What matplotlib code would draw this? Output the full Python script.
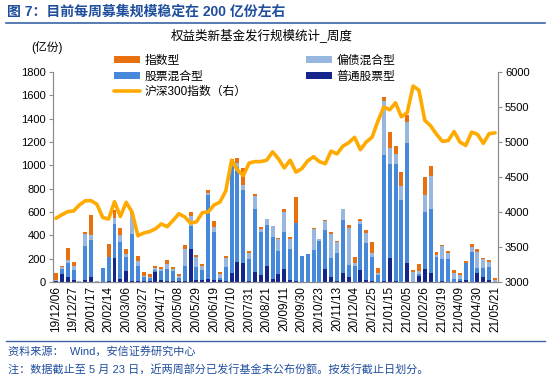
import matplotlib.pyplot as plt
import numpy as np

plt.rcParams['font.family'] = ['Liberation Sans', 'Noto Sans CJK SC', 'DejaVu Sans']

# weekly dates (every category), label shown every 3rd
dates = ['19/12/06', '19/12/13', '19/12/20', '19/12/27', '20/01/03', '20/01/10', '20/01/17', '20/01/23',
         '20/02/07', '20/02/14', '20/02/21', '20/02/28', '20/03/06', '20/03/13', '20/03/20', '20/03/27',
         '20/04/03', '20/04/10', '20/04/17', '20/04/24', '20/04/30', '20/05/08', '20/05/15', '20/05/22',
         '20/05/29', '20/06/05', '20/06/12', '20/06/19', '20/06/24', '20/07/03', '20/07/10', '20/07/17',
         '20/07/24', '20/07/31', '20/08/07', '20/08/14', '20/08/21', '20/08/28', '20/09/04', '20/09/11',
         '20/09/18', '20/09/25', '20/09/30', '20/10/09', '20/10/16', '20/10/23', '20/10/30', '20/11/06',
         '20/11/13', '20/11/20', '20/11/27', '20/12/04', '20/12/11', '20/12/18', '20/12/25', '20/12/31',
         '21/01/08', '21/01/15', '21/01/22', '21/01/29', '21/02/05', '21/02/10', '21/02/19', '21/02/26',
         '21/03/05', '21/03/12', '21/03/19', '21/03/26', '21/04/02', '21/04/09', '21/04/16', '21/04/23',
         '21/04/30', '21/05/07', '21/05/14', '21/05/21']

# 普通股票型
ptgp = [5, 70, 40, 15, 0, 20, 45, 0, 3, 5, 208, 28, 90, 5, 5, 5, 5, 85, 15, 12, 8, 8, 8, 283,
        17, 15, 26, 17, 17, 8, 75, 174, 166, 5, 86, 63, 140, 23, 69, 109, 17, 5, 0, 0, 3, 3,
        109, 46, 5, 74, 46, 3, 103, 17, 5, 3, 5, 203, 5, 3, 160, 0, 51, 109, 74, 0, 8, 0, 0,
        9, 20, 0, 80, 40, 15, 0]
# 股票混合型
gphh = [5, 45, 125, 90, 0, 285, 315, 0, 120, 205, 286, 317, 125, 410, 135, 35, 30, 20, 75, 97,
        88, 30, 129, 194, 114, 88, 720, 414, 15, 124, 920, 816, 623, 190, 543, 363, 349, 360,
        197, 323, 263, 498, 220, 240, 271, 349, 337, 157, 240, 457, 100, 134, 394, 314, 206, 60,
        1083, 808, 1006, 700, 1034, 0, 20, 494, 549, 217, 189, 197, 26, 20, 143, 260, 37, 80, 110, 0]
# 偏债混合型
pzhh = [5, 12, 25, 30, 12, 110, 43, 10, 0, 3, 57, 57, 22, 165, 43, 14, 12, 12, 20, 46, 12, 14,
        143, 86, 83, 37, 14, 43, 34, 77, 40, 30, 42, 51, 111, 29, 54, 97, 100, 166, 86, 0, 3, 0,
        177, 17, 80, 206, 100, 91, 317, 23, 29, 91, 40, 17, 463, 134, 83, 120, 174, 89, 23, 143,
        285, 14, 111, 49, 49, 31, 3, 43, 137, 75, 50, 14]
# 指数型
zsx = [60, 13, 100, 39, 0, 10, 170, 0, 0, 110, 62, 64, 45, 17, 40, 29, 19, 20, 16, 34, 23, 14,
       37, 34, 17, 11, 29, 51, 23, 17, 20, 40, 143, 23, 14, 20, 0, 0, 9, 26, 17, 229, 0, 0, 9, 0,
       5, 17, 10, 0, 26, 57, 11, 23, 91, 37, 37, 143, 74, 123, 63, 14, 57, 151, 86, 29, 9, 23,
       29, 20, 14, 23, 29, 12, 14, 17]
# 沪深300指数（右）
hs300 = [3910, 3960, 4005, 4014, 4100, 4160, 4162, 4110, 3920, 3900, 4148, 3935, 4138, 4000,
         3660, 3700, 3720, 3760, 3830, 3790, 3880, 3975, 3930, 3840, 3860, 3990, 4000, 4100, 4140,
         4300, 4740, 4600, 4520, 4700, 4720, 4720, 4740, 4860, 4760, 4630, 4740, 4570, 4620, 4730,
         4790, 4720, 4690, 4870, 4830, 4940, 4990, 5067, 4890, 5000, 5070, 5300, 5500, 5460, 5560,
         5360, 5420, 5800, 5740, 5310, 5230, 5110, 5010, 5020, 5150, 5000, 4950, 5140, 5110, 4980,
         5120, 5130]

blue_txt = '#1F4E9D'
grey = '#8C8C8C'

fig = plt.figure(figsize=(5.5, 3.77), dpi=100)

# header / footer
fig.text(0.012, 0.968, '图 7：目前每周募集规模稳定在 200 亿份左右', fontsize=10, fontweight='bold',
         color=blue_txt, va='center', ha='left')
fig.add_artist(plt.Line2D([0.01, 0.99], [0.94, 0.94], color='#3A63A8', lw=1.2))
fig.add_artist(plt.Line2D([0.01, 0.99], [0.095, 0.095], color='#3A63A8', lw=1.0))
fig.text(0.015, 0.068, '资料来源：  Wind，安信证券研究中心', fontsize=8, color=blue_txt, va='center')
fig.text(0.015, 0.021, '注：数据截止至 5 月 23 日，近两周部分已发行基金未公布份额。按发行截止日划分。',
         fontsize=8, color=blue_txt, va='center')

fig.text(0.476, 0.908, '权益类新基金发行规模统计_周度', fontsize=9, ha='center', va='center')
fig.text(0.085, 0.873, '(亿份)', fontsize=8.5, ha='center', va='center')

ax = fig.add_axes([0.0964, 0.252, 0.809, 0.557])
x = np.arange(len(dates))
b1 = np.array(ptgp)
b2 = b1 + np.array(gphh)
b3 = b2 + np.array(pzhh)
w = 0.68
h_pt = ax.bar(x, ptgp, w, color='#14268C', label='普通股票型')
h_gp = ax.bar(x, gphh, w, bottom=b1, color='#4689DA', label='股票混合型')
h_pz = ax.bar(x, pzhh, w, bottom=b2, color='#97B7E1', label='偏债混合型')
h_zs = ax.bar(x, zsx, w, bottom=b3, color='#E8700E', label='指数型')

ax2 = ax.twinx()
h_hs, = ax2.plot(x, hs300, color='#FFAA00', lw=2.6, solid_joinstyle='round',
                 solid_capstyle='round', label='沪深300指数（右）')

ax.set_xlim(-0.5, len(dates) - 0.5)
ax.set_ylim(0, 1800)
ax2.set_ylim(3000, 6000)
ax.set_yticks(range(0, 1801, 200))
ax2.set_yticks(range(3000, 6001, 500))
ax.set_xticks(x[::3])
ax.set_xticklabels(dates[::3], rotation=90, fontsize=8.5)

for a in (ax, ax2):
    a.spines['top'].set_visible(False)
    for s in ('left', 'right', 'bottom'):
        a.spines[s].set_color(grey)
        a.spines[s].set_linewidth(0.8)
ax.tick_params(axis='y', labelsize=8, length=3, color=grey, pad=2)
ax2.tick_params(axis='y', labelsize=8, length=3, color=grey, pad=2)
ax.tick_params(axis='x', length=0, pad=3)

fig.legend([h_zs, h_gp, h_hs, h_pz, h_pt],
           ['指数型', '股票混合型', '沪深300指数（右）', '偏债混合型', '普通股票型'],
           ncol=2, frameon=False, fontsize=8.5, loc='upper left',
           bbox_to_anchor=(0.197, 0.87), handlelength=2.2, handleheight=0.6,
           labelspacing=0.3, columnspacing=5.0, handletextpad=0.4, borderpad=0)

fig.savefig('out.png', dpi=100)
